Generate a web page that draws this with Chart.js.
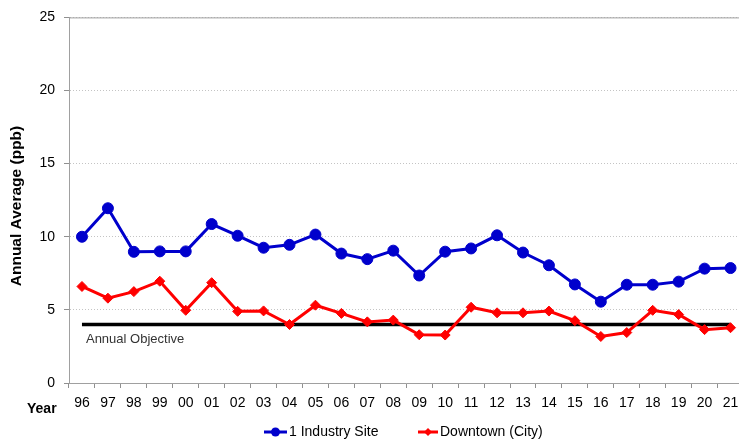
<!DOCTYPE html>
<html>
<head>
<meta charset="utf-8">
<script src="https://cdn.jsdelivr.net/npm/chart.js@4"></script>
<style>
  html, body { margin: 0; padding: 0; overflow: hidden; background: #fff; }
  #wrap { width: 739px; height: 443px; overflow: hidden; }
</style>
</head>
<body>
<div id="wrap"><canvas id="chart" width="750" height="443" style="width:750px;height:443px"></canvas></div>
<script>
// data
const years = ['96', '97', '98', '99', '00', '01', '02', '03', '04', '05', '06', '07', '08',
               '09', '10', '11', '12', '13', '14', '15', '16', '17', '18', '19', '20', '21'];
const industrySite = [10.0, 11.95, 8.97, 9.0, 9.0, 10.87, 10.07, 9.25, 9.45, 10.15, 8.85, 8.47, 9.05,
                      7.35, 8.98, 9.2, 10.1, 8.92, 8.05, 6.74, 5.56, 6.72, 6.72, 6.93, 7.82, 7.86];
const downtown = [6.6, 5.8, 6.25, 6.96, 4.97, 6.86, 4.9, 4.93, 4.0, 5.32, 4.76, 4.18, 4.3,
                  3.3, 3.28, 5.18, 4.8, 4.8, 4.92, 4.26, 3.18, 3.45, 4.97, 4.68, 3.65, 3.78];
const objectiveValue = 4;
const yTicks = [0, 5, 10, 15, 20, 25];

const FONT = '"Liberation Sans", Arial, sans-serif';
const BLUE = '#0000CC';
const RED = '#FF0000';

// extra bits: solid top border, axis titles, objective label, legend
const extras = {
    id: 'extras',
    afterDraw(chart) {
        const ctx = chart.ctx;
        const area = chart.chartArea;
        const y = chart.scales.y;
        const x = chart.scales.x;
        ctx.save();

        // top border
        ctx.strokeStyle = '#a0a0a0';
        ctx.lineWidth = 1;
        ctx.beginPath();
        ctx.moveTo(area.left, y.getPixelForValue(25) + 0.5);
        ctx.lineTo(area.right, y.getPixelForValue(25) + 0.5);
        ctx.stroke();

        // objective label
        ctx.fillStyle = '#333';
        ctx.font = '13px ' + FONT;
        ctx.textBaseline = 'middle';
        ctx.textAlign = 'left';
        ctx.fillText('Annual Objective', x.getPixelForValue(0) + 4, y.getPixelForValue(objectiveValue) + 15, 100);

        // axis titles
        ctx.fillStyle = '#000';
        ctx.font = 'bold 14px ' + FONT;
        ctx.fillText('Year', 27, 409, 32);

        ctx.save();
        ctx.translate(17, 206);
        ctx.rotate(-Math.PI / 2);
        ctx.textAlign = 'center';
        ctx.font = 'bold 15.5px ' + FONT;
        ctx.fillText('Annual Average (ppb)', 0, 0);
        ctx.restore();

        // legend
        const ly = 432;
        ctx.font = '14px ' + FONT;
        ctx.lineWidth = 3;
        ctx.strokeStyle = BLUE;
        ctx.beginPath(); ctx.moveTo(264, ly); ctx.lineTo(287, ly); ctx.stroke();
        ctx.fillStyle = BLUE;
        ctx.beginPath(); ctx.arc(275.5, ly, 4.5, 0, Math.PI * 2); ctx.fill();
        ctx.fillStyle = '#000';
        ctx.fillText('1 Industry Site', 289, ly, 90);

        ctx.strokeStyle = RED;
        ctx.beginPath(); ctx.moveTo(418, ly); ctx.lineTo(438, ly); ctx.stroke();
        ctx.fillStyle = RED;
        ctx.beginPath();
        ctx.moveTo(428, ly - 4); ctx.lineTo(432, ly); ctx.lineTo(428, ly + 4); ctx.lineTo(424, ly);
        ctx.closePath(); ctx.fill();
        ctx.fillStyle = '#000';
        ctx.fillText('Downtown (City)', 440, ly, 107);

        ctx.restore();
    }
};

const ctx = document.getElementById('chart').getContext('2d');
const chart = new Chart(ctx, {
    type: 'line',
    data: {
        labels: years,
        datasets: [
            {
                label: 'Annual Objective',
                data: years.map(() => objectiveValue),
                borderColor: '#000',
                borderWidth: 3.5,
                pointRadius: 0,
                order: 3
            },
            {
                label: '1 Industry Site',
                data: industrySite,
                borderColor: BLUE,
                backgroundColor: BLUE,
                borderWidth: 3,
                pointStyle: 'circle',
                pointRadius: 5.5,
                pointBorderWidth: 1,
                order: 1
            },
            {
                label: 'Downtown (City)',
                data: downtown,
                borderColor: RED,
                backgroundColor: RED,
                borderWidth: 3,
                pointStyle: 'rectRot',
                pointRadius: 5,
                pointBorderWidth: 1,
                order: 2
            }
        ]
    },
    options: {
        responsive: false,
        animation: false,
        devicePixelRatio: 1,
        layout: { padding: { left: 0, right: 5, top: 13, bottom: 0 } },
        plugins: {
            legend: { display: false },
            tooltip: { enabled: false }
        },
        scales: {
            x: {
                offset: true,
                grid: {
                    offset: true,
                    drawOnChartArea: false,
                    tickLength: 5,
                    tickColor: '#909090'
                },
                border: { color: '#a0a0a0' },
                ticks: {
                    color: '#000',
                    font: { family: FONT, size: 14 },
                    padding: 7,
                    maxRotation: 0,
                    autoSkip: false
                },
                afterFit(scale) { scale.height = 60; }
            },
            y: {
                min: 0,
                max: 25,
                afterBuildTicks(scale) { scale.ticks = yTicks.map(v => ({ value: v })); },
                grid: {
                    color: '#c4c4c4',
                    tickColor: '#909090',
                    tickLength: 5
                },
                border: { color: '#a0a0a0', dash: [1, 2] },
                ticks: {
                    color: '#000',
                    font: { family: FONT, size: 14 },
                    padding: 9
                },
                afterFit(scale) { scale.width = 69; }
            }
        }
    },
    plugins: [extras]
});
</script>
</body>
</html>
